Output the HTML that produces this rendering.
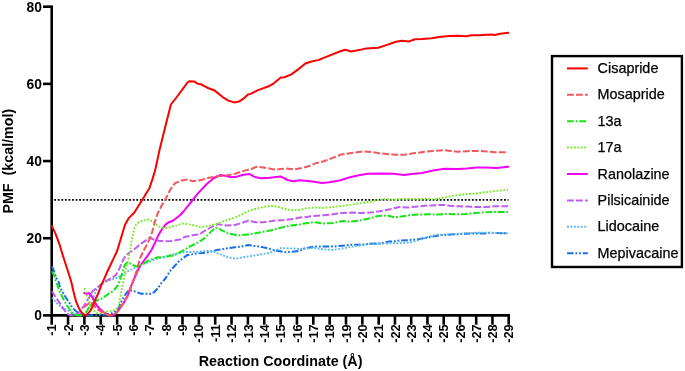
<!DOCTYPE html><html><head><meta charset="utf-8"><style>html,body{margin:0;padding:0;background:#fff;overflow:hidden}svg{display:block;will-change:transform}text{font-family:"Liberation Sans",sans-serif}</style></head><body>
<svg width="685" height="371" viewBox="0 0 685 371">
<rect width="685" height="371" fill="#fff"/>
<g stroke="#000" stroke-width="2.6" fill="none">
<line x1="51.7" y1="5.4" x2="51.7" y2="324.7"/>
<line x1="50.400000000000006" y1="315.4" x2="510.0" y2="315.4"/>
<line x1="43.0" y1="315.40" x2="51.7" y2="315.40"/>
<line x1="43.0" y1="238.22" x2="51.7" y2="238.22"/>
<line x1="43.0" y1="161.05" x2="51.7" y2="161.05"/>
<line x1="43.0" y1="83.88" x2="51.7" y2="83.88"/>
<line x1="43.0" y1="6.70" x2="51.7" y2="6.70"/>
<line x1="68.05" y1="315.4" x2="68.05" y2="324.7"/>
<line x1="84.40" y1="315.4" x2="84.40" y2="324.7"/>
<line x1="100.75" y1="315.4" x2="100.75" y2="324.7"/>
<line x1="117.10" y1="315.4" x2="117.10" y2="324.7"/>
<line x1="133.45" y1="315.4" x2="133.45" y2="324.7"/>
<line x1="149.80" y1="315.4" x2="149.80" y2="324.7"/>
<line x1="166.15" y1="315.4" x2="166.15" y2="324.7"/>
<line x1="182.50" y1="315.4" x2="182.50" y2="324.7"/>
<line x1="198.85" y1="315.4" x2="198.85" y2="324.7"/>
<line x1="215.20" y1="315.4" x2="215.20" y2="324.7"/>
<line x1="231.55" y1="315.4" x2="231.55" y2="324.7"/>
<line x1="247.90" y1="315.4" x2="247.90" y2="324.7"/>
<line x1="264.25" y1="315.4" x2="264.25" y2="324.7"/>
<line x1="280.60" y1="315.4" x2="280.60" y2="324.7"/>
<line x1="296.95" y1="315.4" x2="296.95" y2="324.7"/>
<line x1="313.30" y1="315.4" x2="313.30" y2="324.7"/>
<line x1="329.65" y1="315.4" x2="329.65" y2="324.7"/>
<line x1="346.00" y1="315.4" x2="346.00" y2="324.7"/>
<line x1="362.35" y1="315.4" x2="362.35" y2="324.7"/>
<line x1="378.70" y1="315.4" x2="378.70" y2="324.7"/>
<line x1="394.95" y1="315.4" x2="394.95" y2="324.7"/>
<line x1="411.20" y1="315.4" x2="411.20" y2="324.7"/>
<line x1="427.45" y1="315.4" x2="427.45" y2="324.7"/>
<line x1="443.70" y1="315.4" x2="443.70" y2="324.7"/>
<line x1="459.95" y1="315.4" x2="459.95" y2="324.7"/>
<line x1="476.20" y1="315.4" x2="476.20" y2="324.7"/>
<line x1="492.45" y1="315.4" x2="492.45" y2="324.7"/>
<line x1="508.70" y1="315.4" x2="508.70" y2="324.7"/>
</g>
<line x1="54.2" y1="199.8" x2="508.5" y2="199.8" stroke="#000" stroke-width="1.8" stroke-dasharray="1.8 1.77"/>
<path d="M52.0,266.5 L54.2,271.4 L56.0,277.6 L58.7,282.0 L59.6,285.9 L62.2,291.2 L65.8,297.5 L69.4,302.8 L72.0,307.3 L74.7,309.9 L77.4,312.2 L79.5,313.8 L84.0,315.2 L95.0,315.3 L104.0,314.8 L110.3,313.9 L114.0,312.0 L118.4,308.2 L120.6,302.8 L122.8,299.2 L124.6,295.7 L126.4,293.0 L129.0,290.3 L132.6,290.6 L136.9,292.2 L141.2,293.8 L146.6,293.8 L150.9,293.8 L154.1,292.2 L158.0,288.0 L161.4,283.0 L165.0,279.0 L170.0,271.1 L179.5,260.6 L187.6,254.9 L197.3,253.5 L207.0,252.5 L216.7,250.1 L226.4,248.4 L235.0,247.3 L242.0,246.4 L248.2,245.0 L254.3,245.9 L261.3,246.9 L270.0,249.0 L277.1,250.8 L285.8,252.2 L292.8,251.8 L300.0,250.8 L304.4,248.5 L313.9,246.6 L323.3,246.6 L332.7,246.6 L342.2,245.7 L351.6,244.7 L361.0,244.7 L370.5,243.8 L379.9,243.4 L389.3,241.6 L395.0,241.2 L399.4,240.6 L408.9,240.1 L418.3,239.2 L427.7,237.5 L437.2,235.7 L446.6,234.7 L456.0,234.3 L465.5,233.8 L474.9,233.4 L484.3,233.4 L490.0,232.8 L508.0,233.4" fill="none" stroke="#1a6fe8" stroke-width="2.0" stroke-linejoin="round" stroke-linecap="butt" stroke-dasharray="6.6 1.85 1.8 1.85 1.8 1.9"/>
<path d="M52.0,297.5 L54.7,300.6 L56.9,303.3 L59.6,305.5 L62.2,308.2 L65.8,309.5 L69.4,311.3 L72.9,313.5 L75.6,314.6 L80.0,315.3 L84.0,315.0 L86.5,312.0 L87.8,309.0 L89.6,306.4 L91.8,302.8 L94.0,295.7 L95.8,292.1 L98.1,286.5 L100.5,284.5 L104.0,282.0 L107.5,281.0 L110.7,279.8 L114.2,278.5 L117.8,277.6 L121.4,275.4 L124.9,273.6 L128.5,270.9 L133.6,268.5 L137.5,266.5 L146.7,262.8 L155.9,259.2 L165.0,256.5 L174.7,254.1 L184.4,252.2 L197.3,251.7 L207.0,250.8 L213.5,251.7 L220.0,254.1 L228.0,257.3 L235.0,258.7 L245.5,256.9 L256.0,255.2 L266.5,253.4 L273.6,251.6 L280.6,248.1 L291.1,248.4 L300.0,249.0 L304.4,248.5 L313.9,248.0 L323.3,249.3 L332.7,250.0 L342.2,248.5 L351.6,246.8 L361.0,245.1 L370.5,243.8 L379.9,243.8 L389.3,243.4 L395.0,243.2 L399.4,243.2 L404.0,243.0 L408.9,242.6 L413.0,241.8 L418.3,240.2 L427.7,237.0 L437.2,234.7 L446.6,234.7 L456.0,233.8 L465.5,233.2 L474.9,232.8 L490.0,232.8 L508.0,233.4" fill="none" stroke="#5ab8f0" stroke-width="1.9" stroke-linejoin="round" stroke-linecap="butt" stroke-dasharray="1.9 1.55"/>
<path d="M52.0,291.2 L56.9,299.2 L61.4,305.5 L64.9,310.8 L67.1,313.5 L69.4,314.8 L72.0,315.3 L75.0,315.2 L78.0,313.5 L81.6,309.0 L84.2,305.5 L86.9,301.0 L89.6,296.6 L92.4,291.5 L94.9,289.3 L97.6,287.5 L100.5,285.0 L103.6,282.5 L107.1,280.3 L111.6,278.0 L116.0,274.9 L117.8,271.8 L119.6,268.2 L121.4,263.8 L123.5,259.0 L125.5,256.0 L129.7,252.2 L132.0,251.0 L135.8,247.9 L141.8,243.1 L146.2,240.1 L149.8,237.7 L153.5,239.5 L158.3,240.7 L164.4,241.3 L170.4,241.1 L176.5,240.1 L180.0,239.5 L184.4,237.1 L194.1,235.0 L200.0,234.2 L202.2,232.3 L208.7,228.5 L213.5,225.8 L217.5,224.2 L226.3,225.4 L235.0,225.0 L242.0,222.8 L248.2,220.7 L256.0,222.2 L263.0,222.2 L273.6,220.7 L284.1,220.1 L291.1,219.3 L300.0,217.5 L304.4,217.2 L313.9,215.9 L323.3,215.3 L332.7,214.3 L342.2,213.0 L351.6,212.6 L361.0,213.0 L370.5,212.6 L379.9,211.3 L390.0,209.3 L395.0,208.0 L399.4,207.0 L408.9,207.4 L418.3,206.4 L427.7,205.5 L437.2,205.1 L446.6,205.1 L450.0,205.9 L458.8,206.3 L467.5,206.6 L476.3,207.1 L485.0,207.1 L493.8,206.3 L508.0,206.3" fill="none" stroke="#c05cf2" stroke-width="2.0" stroke-linejoin="round" stroke-linecap="butt" stroke-dasharray="6.8 2.2"/>
<path d="M84.2,293.0 L86.9,293.9 L89.1,293.0 L91.4,295.7 L94.0,300.1 L96.7,305.5 L100.0,309.0 L104.0,312.5 L109.5,315.3 L113.0,315.3 L116.6,312.6 L120.1,308.2 L123.7,302.8 L127.3,296.6 L131.5,285.2 L134.7,277.7 L137.9,270.1 L140.6,265.2 L143.3,261.5 L146.6,257.2 L151.5,250.0 L154.5,243.8 L158.2,235.6 L162.0,229.0 L166.0,224.2 L169.0,222.2 L172.9,220.7 L180.0,215.3 L183.5,211.5 L191.0,202.1 L198.6,192.6 L207.0,183.8 L214.0,178.0 L220.5,175.0 L225.0,175.8 L231.3,177.3 L236.7,176.8 L243.2,174.8 L249.6,174.0 L254.0,176.6 L260.4,178.2 L270.1,177.7 L280.6,176.4 L287.6,180.0 L292.9,181.2 L299.9,180.3 L310.4,181.2 L315.6,182.0 L322.0,183.1 L329.0,182.2 L339.5,180.5 L350.0,177.3 L358.8,175.2 L367.6,173.8 L381.6,173.4 L393.8,173.8 L404.3,175.0 L411.4,174.1 L421.9,172.9 L433.1,170.6 L444.4,168.7 L457.4,169.0 L467.1,168.4 L476.8,167.4 L486.5,167.6 L496.2,167.9 L508.3,166.7" fill="none" stroke="#f400f4" stroke-width="2.0" stroke-linejoin="round" stroke-linecap="round"/>
<path d="M84.7,288.1 L85.6,291.7 L86.9,294.8 L88.3,298.4 L89.6,302.4 L90.9,305.5 L92.7,309.0 L94.5,311.3 L96.7,313.2 L101.0,313.5 L105.9,311.7 L109.5,311.3 L113.0,310.8 L116.6,309.0 L118.4,306.4 L119.4,301.0 L120.6,295.7 L121.5,290.3 L122.5,285.0 L123.5,280.0 L124.5,275.0 L125.4,271.0 L126.3,267.0 L127.6,262.5 L129.0,256.0 L130.5,248.0 L132.1,238.2 L134.6,227.3 L136.5,224.0 L139.4,221.8 L145.0,220.1 L148.6,219.5 L152.3,221.3 L155.9,224.4 L159.5,226.8 L163.2,228.0 L166.8,228.0 L171.6,226.8 L176.5,225.6 L180.0,224.4 L183.5,223.5 L191.0,224.7 L198.6,226.6 L200.0,227.1 L208.8,226.0 L217.5,223.5 L226.3,220.3 L235.0,217.4 L240.0,215.5 L246.9,211.6 L253.6,209.4 L260.5,207.6 L267.6,206.2 L272.0,205.9 L277.1,206.7 L284.1,208.8 L291.1,210.2 L300.0,210.0 L304.4,208.5 L313.9,207.5 L323.3,207.9 L332.7,207.0 L342.2,205.9 L351.6,204.6 L361.0,203.0 L370.5,201.7 L378.0,199.8 L385.6,199.1 L395.0,199.8 L399.4,198.9 L408.9,198.9 L418.3,198.9 L427.7,198.9 L432.4,199.4 L437.2,199.0 L443.2,197.8 L451.8,195.9 L456.0,195.4 L465.5,194.2 L474.9,193.6 L484.3,192.3 L490.0,191.7 L497.3,190.9 L508.0,189.6" fill="none" stroke="#78ec2a" stroke-width="1.9" stroke-linejoin="round" stroke-linecap="butt" stroke-dasharray="1.9 1.55"/>
<path d="M52.0,271.4 L54.2,275.8 L55.1,279.4 L56.9,284.0 L59.6,291.2 L62.2,296.6 L65.8,303.7 L69.4,309.0 L72.0,312.6 L74.7,314.8 L78.0,315.3 L82.0,315.3 L84.5,314.0 L86.5,311.7 L88.7,308.2 L91.0,305.0 L93.5,302.5 L97.6,300.1 L100.0,299.2 L103.0,297.8 L108.0,294.2 L112.5,291.4 L116.0,287.8 L117.8,285.2 L119.6,281.1 L121.4,275.4 L123.2,269.1 L124.9,264.7 L126.7,262.9 L128.2,262.6 L131.5,264.3 L134.7,265.8 L137.9,266.9 L141.2,264.7 L144.4,263.1 L148.7,260.4 L153.0,258.8 L157.7,257.3 L165.0,257.3 L170.0,255.8 L173.1,255.7 L181.2,251.7 L189.2,246.8 L197.3,242.8 L200.0,241.2 L203.8,238.8 L208.6,234.2 L213.5,229.3 L216.0,227.6 L218.5,228.3 L221.0,229.8 L228.0,233.3 L237.7,235.5 L245.0,234.7 L249.0,234.5 L259.5,232.4 L270.0,230.6 L280.6,227.7 L291.1,225.4 L300.0,224.5 L304.4,223.4 L313.9,222.2 L323.3,223.6 L332.7,223.0 L342.2,221.1 L351.6,221.6 L361.0,220.3 L370.5,218.2 L378.0,216.0 L387.5,215.5 L395.0,217.4 L401.3,216.4 L408.9,215.3 L418.3,214.5 L427.7,214.3 L437.2,214.5 L446.6,214.0 L456.0,214.3 L465.5,214.0 L474.9,213.0 L485.0,212.4 L490.0,212.1 L508.0,211.9" fill="none" stroke="#14e614" stroke-width="2.0" stroke-linejoin="round" stroke-linecap="butt" stroke-dasharray="6.8 1.85 1.8 1.85"/>
<path d="M84.2,307.3 L86.9,305.0 L89.6,302.8 L91.4,302.4 L93.6,305.0 L95.8,307.7 L98.5,310.0 L100.0,310.8 L104.7,313.8 L109.5,315.3 L113.0,315.3 L116.6,312.6 L120.1,308.2 L123.7,302.8 L127.3,296.6 L129.9,290.3 L131.5,285.2 L134.7,276.6 L136.9,270.1 L138.5,263.6 L140.1,258.2 L141.8,254.5 L144.0,250.0 L146.7,245.0 L150.1,238.1 L152.8,230.0 L154.8,221.9 L157.5,213.8 L161.6,205.8 L166.3,197.7 L170.3,189.5 L175.0,183.2 L181.6,180.4 L187.3,179.4 L192.9,181.3 L198.6,180.4 L205.0,179.1 L208.8,177.7 L217.5,176.3 L226.3,175.5 L235.0,173.7 L243.8,170.9 L252.6,168.5 L256.1,166.8 L261.3,167.2 L266.6,168.0 L273.6,169.4 L278.8,169.3 L285.8,168.4 L294.6,169.3 L301.6,168.0 L308.6,166.3 L315.6,163.3 L323.8,161.2 L332.5,158.0 L341.3,154.5 L350.0,153.3 L357.0,152.2 L364.1,151.4 L371.1,151.9 L378.1,153.1 L388.6,154.2 L399.1,154.9 L406.1,154.5 L414.9,153.1 L423.6,151.9 L433.1,150.9 L443.6,150.1 L450.9,150.9 L457.4,151.7 L467.1,151.2 L476.8,150.9 L486.5,151.4 L494.6,152.2 L508.0,152.2" fill="none" stroke="#f0585e" stroke-width="2.0" stroke-linejoin="round" stroke-linecap="butt" stroke-dasharray="6.8 2.2"/>
<path d="M52.0,226.2 L55.9,234.7 L59.3,243.8 L62.7,255.0 L66.7,267.5 L69.4,275.8 L71.3,282.0 L73.6,292.0 L76.2,301.9 L78.9,308.2 L81.6,312.6 L84.7,315.3 L87.8,313.9 L90.5,310.5 L93.2,305.0 L95.8,298.4 L98.1,293.8 L101.4,284.9 L104.6,277.8 L107.1,272.0 L110.0,266.0 L113.5,258.6 L117.0,251.3 L118.5,246.5 L120.4,240.0 L125.0,224.7 L128.8,218.1 L134.4,212.5 L142.0,200.2 L149.5,187.9 L152.4,179.4 L155.2,170.0 L159.5,150.0 L164.9,128.2 L170.9,104.5 L176.8,97.0 L183.2,88.3 L187.5,82.5 L189.7,81.2 L194.0,81.4 L197.6,83.7 L200.3,84.0 L207.3,87.7 L215.1,90.7 L216.9,92.4 L223.0,97.3 L228.3,100.6 L234.4,102.4 L239.7,101.2 L244.1,98.2 L247.6,94.7 L251.1,93.6 L258.1,90.1 L261.6,88.9 L268.6,86.3 L273.8,83.3 L280.8,77.5 L284.3,77.2 L291.4,74.4 L298.4,69.1 L305.4,63.5 L310.6,61.8 L318.8,59.9 L329.3,55.6 L339.8,51.5 L345.0,49.8 L351.2,51.5 L359.1,50.1 L366.1,48.4 L378.3,47.7 L387.1,44.9 L395.8,41.8 L402.0,40.7 L409.0,41.4 L415.1,39.3 L422.1,39.0 L431.7,38.2 L439.0,37.1 L449.2,36.0 L458.0,35.7 L466.7,36.3 L471.1,35.3 L478.4,35.3 L491.5,34.6 L494.5,34.9 L500.3,33.8 L508.3,32.8" fill="none" stroke="#fa0000" stroke-width="2.0" stroke-linejoin="round" stroke-linecap="round"/>
<g font-weight="bold" font-size="13.8" text-anchor="end" fill="#000">
<text x="41.900000000000006" y="320.30">0</text>
<text x="41.900000000000006" y="243.12">20</text>
<text x="41.900000000000006" y="165.95">40</text>
<text x="41.900000000000006" y="88.78">60</text>
<text x="41.900000000000006" y="11.60">80</text>
</g>
<g font-weight="bold" font-size="13.4" text-anchor="end" fill="#000">
<text transform="translate(56.30,324.4) rotate(-90) scale(0.95,1)">-1</text>
<text transform="translate(72.65,324.4) rotate(-90) scale(0.95,1)">-2</text>
<text transform="translate(89.00,324.4) rotate(-90) scale(0.95,1)">-3</text>
<text transform="translate(105.35,324.4) rotate(-90) scale(0.95,1)">-4</text>
<text transform="translate(121.70,324.4) rotate(-90) scale(0.95,1)">-5</text>
<text transform="translate(138.05,324.4) rotate(-90) scale(0.95,1)">-6</text>
<text transform="translate(154.40,324.4) rotate(-90) scale(0.95,1)">-7</text>
<text transform="translate(170.75,324.4) rotate(-90) scale(0.95,1)">-8</text>
<text transform="translate(187.10,324.4) rotate(-90) scale(0.95,1)">-9</text>
<text transform="translate(203.45,324.4) rotate(-90) scale(0.95,1)">-10</text>
<text transform="translate(219.80,324.4) rotate(-90) scale(0.95,1)">-11</text>
<text transform="translate(236.15,324.4) rotate(-90) scale(0.95,1)">-12</text>
<text transform="translate(252.50,324.4) rotate(-90) scale(0.95,1)">-13</text>
<text transform="translate(268.85,324.4) rotate(-90) scale(0.95,1)">-14</text>
<text transform="translate(285.20,324.4) rotate(-90) scale(0.95,1)">-15</text>
<text transform="translate(301.55,324.4) rotate(-90) scale(0.95,1)">-16</text>
<text transform="translate(317.90,324.4) rotate(-90) scale(0.95,1)">-17</text>
<text transform="translate(334.25,324.4) rotate(-90) scale(0.95,1)">-18</text>
<text transform="translate(350.60,324.4) rotate(-90) scale(0.95,1)">-19</text>
<text transform="translate(366.95,324.4) rotate(-90) scale(0.95,1)">-20</text>
<text transform="translate(383.30,324.4) rotate(-90) scale(0.95,1)">-21</text>
<text transform="translate(399.55,324.4) rotate(-90) scale(0.95,1)">-22</text>
<text transform="translate(415.80,324.4) rotate(-90) scale(0.95,1)">-23</text>
<text transform="translate(432.05,324.4) rotate(-90) scale(0.95,1)">-24</text>
<text transform="translate(448.30,324.4) rotate(-90) scale(0.95,1)">-25</text>
<text transform="translate(464.55,324.4) rotate(-90) scale(0.95,1)">-26</text>
<text transform="translate(480.80,324.4) rotate(-90) scale(0.95,1)">-27</text>
<text transform="translate(497.05,324.4) rotate(-90) scale(0.95,1)">-28</text>
<text transform="translate(513.30,324.4) rotate(-90) scale(0.95,1)">-29</text>
</g>
<text x="198.8" y="366" font-weight="bold" font-size="14.3" fill="#000">Reaction Coordinate (Å)</text>
<text transform="translate(13.4,213.6) rotate(-90)" font-weight="bold" font-size="14.3" fill="#000" xml:space="preserve">PMF  (kcal/mol)</text>
<rect x="552" y="56.1" width="129.9" height="210.9" fill="none" stroke="#000" stroke-width="2.4"/>
<line x1="567" y1="68.4" x2="587.8" y2="68.4" stroke="#fa0000" stroke-width="2.0"/>
<text x="597.6" y="73.0" font-size="14.4" fill="#000" stroke="#000" stroke-width="0.25">Cisapride</text>
<line x1="567" y1="94.8" x2="587.8" y2="94.8" stroke="#f0585e" stroke-width="2.0" stroke-dasharray="6.8 2.2"/>
<text x="597.6" y="99.4" font-size="14.4" fill="#000" stroke="#000" stroke-width="0.25">Mosapride</text>
<line x1="567" y1="121.2" x2="587.8" y2="121.2" stroke="#14e614" stroke-width="2.0" stroke-dasharray="6.8 1.85 1.8 1.85"/>
<text x="597.6" y="125.8" font-size="14.4" fill="#000" stroke="#000" stroke-width="0.25">13a</text>
<line x1="567" y1="147.6" x2="587.8" y2="147.6" stroke="#78ec2a" stroke-width="2.0" stroke-dasharray="1.9 1.55"/>
<text x="597.6" y="152.2" font-size="14.4" fill="#000" stroke="#000" stroke-width="0.25">17a</text>
<line x1="567" y1="174.0" x2="587.8" y2="174.0" stroke="#f400f4" stroke-width="2.0"/>
<text x="597.6" y="178.6" font-size="14.4" fill="#000" stroke="#000" stroke-width="0.25">Ranolazine</text>
<line x1="567" y1="200.4" x2="587.8" y2="200.4" stroke="#c05cf2" stroke-width="2.0" stroke-dasharray="6.8 2.2"/>
<text x="597.6" y="205.0" font-size="14.4" fill="#000" stroke="#000" stroke-width="0.25">Pilsicainide</text>
<line x1="567" y1="226.8" x2="587.8" y2="226.8" stroke="#5ab8f0" stroke-width="2.0" stroke-dasharray="1.9 1.55"/>
<text x="597.6" y="231.4" font-size="14.4" fill="#000" stroke="#000" stroke-width="0.25">Lidocaine</text>
<line x1="567" y1="253.2" x2="587.8" y2="253.2" stroke="#1a6fe8" stroke-width="2.0" stroke-dasharray="6.6 1.85 1.8 1.85 1.8 1.9"/>
<text x="597.6" y="257.8" font-size="14.4" fill="#000" stroke="#000" stroke-width="0.25">Mepivacaine</text>
</svg></body></html>
